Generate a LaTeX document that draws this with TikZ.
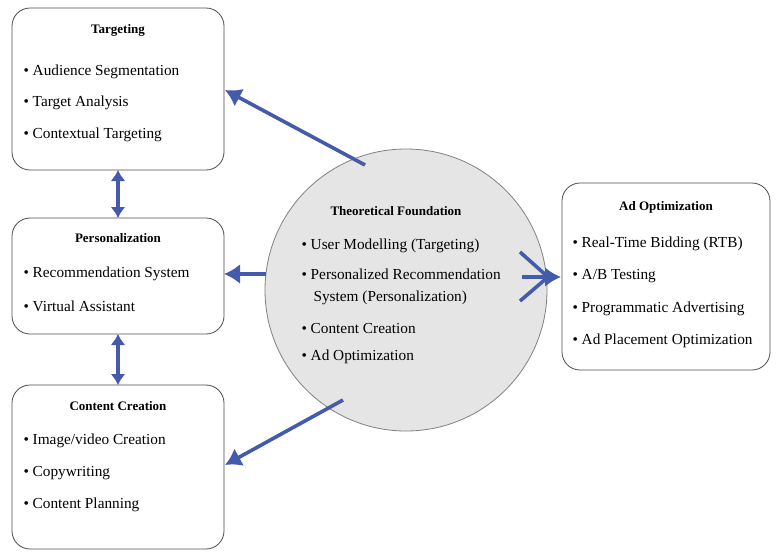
\documentclass[tikz,border=0pt]{standalone}
\usepackage{fontspec}
\setmainfont{Liberation Serif}
\usetikzlibrary{arrows.meta}
\begin{document}
\begin{tikzpicture}[x=1pt,y=-1pt,
  box/.style={draw=black!70,line width=0.8pt,rounded corners=18pt},
  ttl/.style={font=\fontsize{13}{15}\selectfont\bfseries},
  itm/.style={font=\fontsize{15.3}{17}\selectfont,anchor=west},
  arr/.style={draw={rgb,255:red,68;green,90;blue,170},line width=3.6pt,-{Latex[length=16pt,width=20pt]}},
  darr/.style={draw={rgb,255:red,68;green,90;blue,170},line width=3.6pt,{Latex[length=11pt,width=15pt]}-{Latex[length=11pt,width=15pt]}}]
\useasboundingbox (0,0) rectangle (779,558);
\node[box,minimum width=212pt,minimum height=162pt] (t) at (118,89) {};
\node[box,minimum width=212pt,minimum height=116pt] (p) at (118,276) {};
\node[box,minimum width=212pt,minimum height=164pt] (c) at (118,467) {};
\node[box,minimum width=208pt,minimum height=187pt] (a) at (666,276.5) {};
\node[circle,draw=black!50,fill=black!10,line width=0.8pt,minimum size=282pt] (f) at (406,290) {};
\node[ttl] (tt) at (118,30) {Targeting};
\node[itm] (t1) at (20,72) {• Audience Segmentation};
\node[itm] (t2) at (20,103) {• Target Analysis};
\node[itm] (t3) at (20,135) {• Contextual Targeting};
\node[ttl] (pt) at (118,238) {Personalization};
\node[itm] (p1) at (20,274) {• Recommendation System};
\node[itm] (p2) at (20,306) {• Virtual Assistant};
\node[ttl] (ct) at (118,406) {Content Creation};
\node[itm] (c1) at (20,441) {• Image/video Creation};
\node[itm] (c2) at (20,473) {• Copywriting};
\node[itm] (c3) at (20,505) {• Content Planning};
\node[ttl] (at) at (666,207) {Ad Optimization};
\node[itm] (a1) at (569,244) {• Real-Time Bidding (RTB)};
\node[itm] (a2) at (569,276) {• A/B Testing};
\node[itm] (a3) at (569,309) {• Programmatic Advertising};
\node[itm] (a4) at (569,341) {• Ad Placement Optimization};
\node[ttl] (ft) at (396,211) {Theoretical Foundation};
\node[itm] (f1) at (298,246) {• User Modelling (Targeting)};
\node[itm] (f2) at (298,274) {• Personalized Recommendation};
\node[itm] (f2b) at (310,298) {System (Personalization)};
\node[itm] (f3) at (298,329) {• Content Creation};
\node[itm] (f4) at (298,357) {• Ad Optimization};
\coordinate (s1) at (365,165); \coordinate (e1) at (225,90);
\coordinate (s2) at (266,274); \coordinate (e2) at (224,274);
\coordinate (s3) at (343,400); \coordinate (e3) at (225,465);
\coordinate (s4) at (520,252); \coordinate (s5) at (522,277); \coordinate (s6) at (520,301);
\coordinate (e4) at (561,277); \coordinate (m4) at (548,277);
\coordinate (u1) at (118,170); \coordinate (u2) at (118,218);
\coordinate (v1) at (118,334); \coordinate (v2) at (118,385);
\draw[arr] (s1) -- (e1);
\draw[arr] (s2) -- (e2);
\draw[arr] (s3) -- (e3);
\draw[draw={rgb,255:red,68;green,90;blue,170},line width=3.6pt] (s4) -- (m4) (s6) -- (m4);
\draw[arr] (s5) -- (e4);
\draw[darr] (u1) -- (u2);
\draw[darr] (v1) -- (v2);
\end{tikzpicture}
\end{document}
